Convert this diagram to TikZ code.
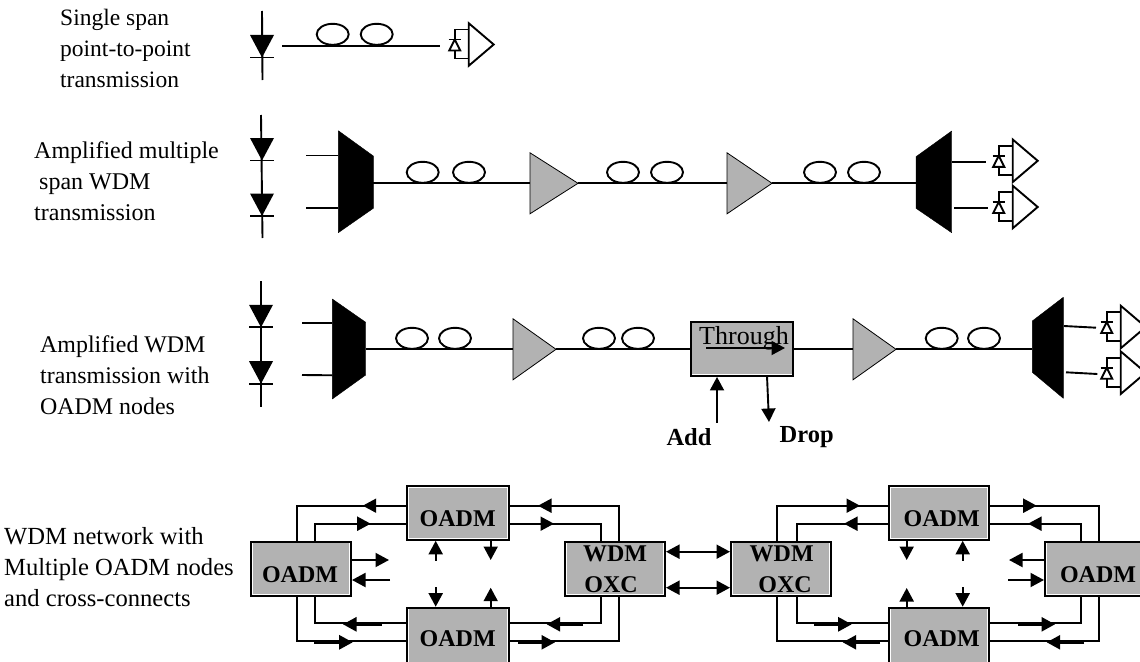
\documentclass[tikz,border=0pt]{standalone}
\usepackage{fontspec}
\setmainfont{Liberation Serif}
\usetikzlibrary{arrows.meta,shapes.geometric}
\definecolor{boxgray}{HTML}{B2B2B2}
\tikzset{
  wire/.style={line width=1.9pt},
  tri/.style={-{Triangle[length=13.5pt,width=14pt]}},
  trib/.style={{Triangle[length=13.5pt,width=14pt]}-{Triangle[length=13.5pt,width=14pt]}},
  thicktail/.style={line width=2.6pt,-{Triangle[length=13.5pt,width=14pt,sep=0pt]}},
  coil/.style={draw,ellipse,line width=1.9pt,minimum width=32pt,minimum height=21pt,inner sep=0pt},
  box/.style={draw,fill=boxgray,line width=2pt,rectangle,inner sep=0pt,minimum width=#1,minimum height=54pt,
    path picture={\draw[white,line width=3.4pt] (path picture bounding box.south west) rectangle (path picture bounding box.north east);}},
  box/.default=100pt,
  boxtext/.style={font=\fontsize{24}{24}\selectfont\bfseries,inner sep=0pt},
  side/.style={font=\fontsize{#1}{31}\selectfont,align=left,anchor=west,inner sep=0pt},
  roman/.style={font=\fontsize{26}{26}\selectfont,inner sep=0pt},
  romanb/.style={font=\fontsize{24.5}{24.5}\selectfont\bfseries,inner sep=0pt},
  black shape/.style={fill=black,draw=black,line width=.4pt,line join=round},
  pics/lasr/.style={code={
    \fill (-12,-22.5) -- (12,-22.5) -- (0,0) -- cycle;
    \draw[wire] (-12,0) -- (12,0);
  }},
  pics/ampl/.style={code={
    \draw[fill=boxgray,line width=.8pt] (0,-30.5) -- (#1,0) -- (0,30.5) -- cycle;
    \coordinate (-in) at (0,0);
    \coordinate (-out) at (#1,0);
  }},
  pics/rcv/.style={code={
    \draw[wire,fill=white] (0,-21.3) -- (25,0) -- (0,21.3) -- cycle;
    \draw[wire] (0,-15) -- (-14,-15) -- (-14,-5);
    \draw[wire] (-20,-5) -- (-8,-5);
    \draw[wire] (-14,-5) -- (-19.5,6) -- (-8.5,6) -- cycle;
    \draw[wire] (-14,6) -- (-14,14) -- (0,14);
  }},
}
\newcommand{\ringline}[4]{%
  \draw[wire] (#1 |- 0,#2) -- (#3,#2) -- (#3,0 |- #4);
}
\begin{document}
\begin{tikzpicture}[x=1pt,y=-1pt]
\clip (0,0) rectangle (1140,661);

% side labels
\node[side=23.5] (lab1) at (60,48.5) {Single span\\point-to-point\\transmission};
\node[side=24] (lab2) at (34,181) {Amplified multiple\\\hspace*{5pt}span WDM\\transmission};
\node[side=23.9] (lab3) at (40,375) {Amplified WDM\\transmission with\\OADM nodes};
\node[side=24.6] (lab4) at (4,567) {WDM network with\\Multiple OADM nodes\\and cross-connects};

% row 1
\coordinate (l1t) at (262,11); \coordinate (l1b) at (262.5,80);
\draw[wire] (l1t) -- (l1b);
\pic at (262,57.5) {lasr};
\coordinate (f1a) at (282,45.7); \coordinate (f1b) at (440,45.7);
\draw[wire] (f1a) -- (f1b);
\node[coil] (c11) at (332.7,34.3) {};
\node[coil] (c12) at (376.7,34.3) {};
\pic at (468.7,44.5) {rcv};

% row 2
\coordinate (l2t) at (261,115); \coordinate (l2b) at (262.5,238);
\draw[wire] (l2t) -- (l2b);
\pic at (262,160.5) {lasr};
\pic at (262,216) {lasr};
\coordinate (m2a) at (338.3,130.7); \coordinate (m2b) at (373.3,156);
\coordinate (m2c) at (373.3,208.3); \coordinate (m2d) at (338.3,232.7);
\fill[black shape] (m2a) -- (m2b) -- (m2c) -- (m2d) -- cycle;
\coordinate (s21) at (306,155.5); \coordinate (s22) at (306,207.7);
\draw[wire] (s21) -- (s21 -| m2a);
\draw[wire] (s22) -- (s22 -| m2a);
\coordinate (m2o) at (373.3,183.3);
\pic (a21) at (530,183.3) {ampl=48};
\pic (a22) at (727,183.3) {ampl=45};
\coordinate (d2i) at (916,183.3);
\draw[wire] (m2o) -- (a21-in);
\draw[wire] (a21-out) -- (a22-in);
\draw[wire] (a22-out) -- (d2i);
\node[coil] (c21) at (422.7,172.3) {};
\node[coil] (c22) at (469,172.3) {};
\node[coil] (c23) at (623,172.3) {};
\node[coil] (c24) at (667,172.3) {};
\node[coil] (c25) at (820,172.3) {};
\node[coil] (c26) at (864,172.3) {};
\fill[black shape] (916,156.7) -- (951.7,131) -- (951.7,232.7) -- (916,208.3) -- cycle;
\coordinate (d21) at (952,161.7); \coordinate (e21) at (986,161.7);
\coordinate (d22) at (954,207.7); \coordinate (e22) at (988,207.7);
\draw[wire] (d21) -- (e21);
\draw[wire] (d22) -- (e22);
\pic at (1012.7,160.8) {rcv};
\pic at (1012.7,207) {rcv};

% row 3
\coordinate (l3t) at (261,281); \coordinate (l3b) at (261,406.7);
\draw[wire] (l3t) -- (l3b);
\pic at (261,327.3) {lasr};
\pic at (261,383.7) {lasr};
\fill[black shape] (332.3,299) -- (365.7,322.3) -- (365.7,375) -- (332.3,399) -- cycle;
\coordinate (s31) at (302,323.3); \coordinate (s32) at (302,375);
\draw[wire] (s31) -- (332.3,323.3);
\draw[wire] (s32) -- (332.3,375.3);
\coordinate (m3o) at (365.7,349.3);
\pic (a31) at (513,349.3) {ampl=43};
\node[box=102.6pt,minimum height=54.3pt] (adm) at (742,348.8) {};
\pic (a32) at (853,349.3) {ampl=43};
\coordinate (d3i) at (1032.3,349.3);
\draw[wire] (m3o) -- (a31-in);
\draw[wire] (a31-out) -- (adm.west |- a31-out);
\draw[wire] (adm.east |- a32-in) -- (a32-in);
\draw[wire] (a32-out) -- (d3i);
\node[coil] (c31) at (412,338.3) {};
\node[coil] (c32) at (455,338.3) {};
\node[coil] (c33) at (599,338.3) {};
\node[coil] (c34) at (638,338.3) {};
\node[coil] (c35) at (941.7,338.3) {};
\node[coil] (c36) at (984,338.3) {};
\fill[black shape] (1032.3,321) -- (1063.3,297.3) -- (1063.3,398.3) -- (1032.3,372.3) -- cycle;
\coordinate (d31) at (1064,326); \coordinate (e31) at (1096,327.7);
\coordinate (d32) at (1066,372.3); \coordinate (e32) at (1097.3,374);
\draw[wire] (d31) -- (e31);
\draw[wire] (d32) -- (e32);
\pic at (1120.7,327) {rcv};
\pic at (1120.7,372.7) {rcv};
\node[roman,anchor=base] (thr) at (744,344) {Through};
\coordinate (tha) at (706,348); \coordinate (thb) at (785,348);
\draw[wire,tri] (tha) -- (thb);
\node[romanb] (add) at (689,437.5) {Add};
\node[romanb] (drop) at (806.7,437.5) {Drop};
\coordinate (addf) at (717,422.7);
\coordinate (dropa) at (767,376); \coordinate (dropf) at (769,422);
\draw[wire,tri] (addf) -- (addf |- adm.south);
\draw[wire,tri] (dropa) -- (dropf);

% network boxes
\node[box] (oL) at (301,568.7) {};
\node[box=102pt] (oT) at (457.8,512.8) {};
\node[box=102pt,minimum height=56pt] (oB) at (457.8,635.7) {};
\node[box] (xL) at (615,568.7) {};
\node[box] (xR) at (781,568.7) {};
\node[box] (rT) at (939,512.8) {};
\node[box,minimum height=56pt] (rB) at (939,635.7) {};
\node[box] (oR) at (1095,568.7) {};

\node[boxtext] (tL) at (300,575) {OADM};
\node[boxtext] (tT) at (457.7,518.3) {OADM};
\node[boxtext] (tB) at (457.7,638.3) {OADM};
\node[boxtext] (tx1) at (615,554) {WDM};
\node[boxtext] (tx2) at (611,585) {OXC};
\node[boxtext] (tx3) at (781.7,554) {WDM};
\node[boxtext] (tx4) at (785,585) {OXC};
\node[boxtext] (tRT) at (941.7,518.3) {OADM};
\node[boxtext] (tRB) at (941.7,638.3) {OADM};
\node[boxtext] (tR) at (1098,575) {OADM};

% left ring
\ringline{oT.west}{505.7}{296.7}{oL.north}
\draw[wire,tri] (376,505.7) -- (362.7,505.7);
\ringline{oT.west}{523.7}{314.7}{oL.north}
\draw[wire,tri] (358,523.7) -- (370.7,523.7);
\ringline{oT.east}{505.7}{619}{xL.north}
\draw[wire,tri] (551,505.7) -- (538,505.7);
\ringline{oT.east}{523.7}{601.3}{xL.north}
\draw[wire,tri] (541,523.7) -- (554,523.7);
\ringline{oB.west}{623.3}{314.7}{oL.south}
\draw[thicktail] (381.7,624.3) -- (343,624.3);
\ringline{oB.west}{641.3}{296.7}{oL.south}
\draw[thicktail] (314,642.3) -- (352.7,642.3);
\ringline{oB.east}{623.3}{601.3}{xL.south}
\draw[thicktail] (583,624.3) -- (546.7,624.3);
\ringline{oB.east}{641.3}{619}{xL.south}
\draw[thicktail] (518,642.3) -- (555,642.3);

% left inner arrows
\coordinate (i1) at (435.7,560.7); \coordinate (i2) at (490.7,560);
\coordinate (i3) at (389,560); \coordinate (i4) at (390,580);
\coordinate (i5) at (435.7,587.3); \coordinate (i6) at (490.7,587.7);
\draw[wire,tri] (i1) -- (i1 |- oT.south);
\draw[wire,tri] (i2 |- oT.south) -- (i2);
\draw[wire,tri] (i3 -| oL.east) -- (i3);
\draw[wire,tri] (i4) -- (i4 -| oL.east);
\draw[wire,tri] (i5) -- (i5 |- oB.north);
\draw[wire,tri] (i6 |- oB.north) -- (i6);

% link between cross-connects
\draw[wire,trib] (xL.east |- 0,551.7) -- (xR.west |- 0,551.7);
\draw[wire,trib] (xL.east |- 0,587.7) -- (xR.west |- 0,587.7);

% right ring
\ringline{rT.west}{505.7}{777}{xR.north}
\draw[wire,tri] (847,505.7) -- (860,505.7);
\ringline{rT.west}{523.7}{796.7}{xR.north}
\draw[wire,tri] (857,523.7) -- (844,523.7);
\ringline{rT.east}{505.7}{1099}{oR.north}
\draw[wire,tri] (1024,505.7) -- (1036.7,505.7);
\ringline{rT.east}{523.7}{1081}{oR.north}
\draw[wire,tri] (1041,523.7) -- (1028,523.7);
\ringline{rB.west}{623.3}{796.7}{xR.south}
\draw[thicktail] (814,624.3) -- (851.7,624.3);
\ringline{rB.west}{641.3}{777}{xR.south}
\draw[thicktail] (880,642.3) -- (842.7,642.3);
\ringline{rB.east}{623.3}{1081}{oR.south}
\draw[thicktail] (1018,624.3) -- (1055,624.3);
\ringline{rB.east}{641.3}{1099}{oR.south}
\draw[thicktail] (1084,642.3) -- (1046.7,642.3);

% right inner arrows
\coordinate (j1) at (906.7,560); \coordinate (j2) at (962.7,560.7);
\coordinate (j3) at (1009,560); \coordinate (j4) at (1008,580);
\coordinate (j5) at (906.7,588); \coordinate (j6) at (962.7,587);
\draw[wire,tri] (j1 |- rT.south) -- (j1);
\draw[wire,tri] (j2) -- (j2 |- rT.south);
\draw[wire,tri] (j3 -| oR.west) -- (j3);
\draw[wire,tri] (j4) -- (j4 -| oR.west);
\draw[wire,tri] (j5 |- rB.north) -- (j5);
\draw[wire,tri] (j6) -- (j6 |- rB.north);
\end{tikzpicture}
\end{document}
